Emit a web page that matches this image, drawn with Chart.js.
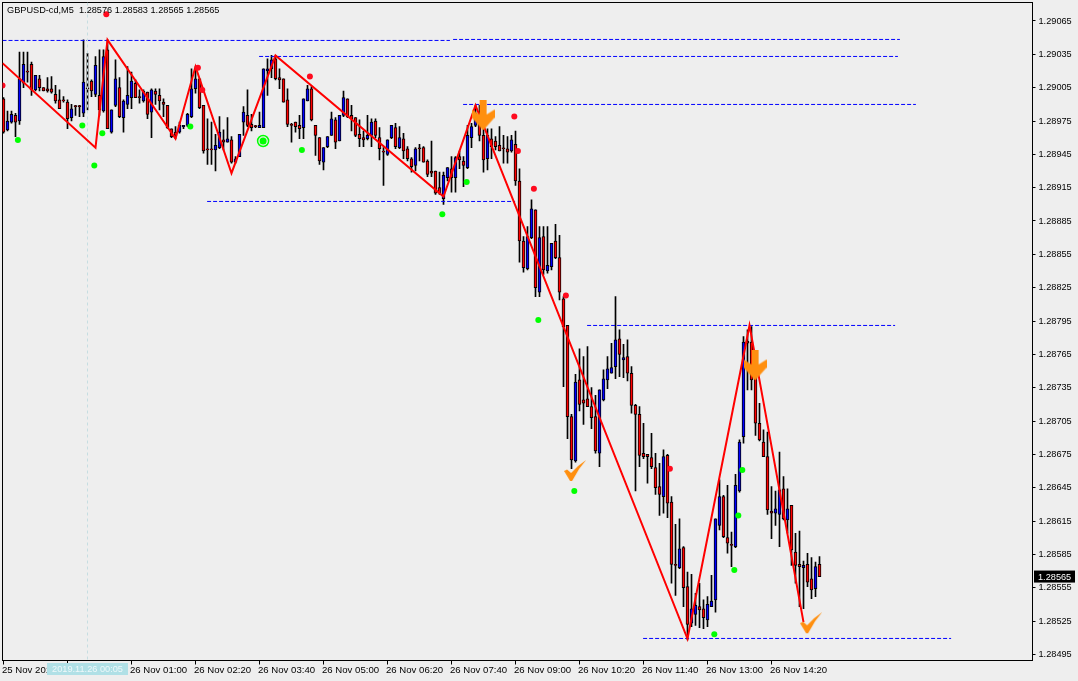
<!DOCTYPE html>
<html>
<head>
<meta charset="utf-8">
<title>GBPUSD-cd,M5</title>
<script src="https://cdn.jsdelivr.net/npm/chart.js@4/dist/chart.umd.min.js"></script>
<style>
  html, body { margin: 0; padding: 0; background: #eeeeee; overflow: hidden; }
  canvas { display: block; }
</style>
</head>
<body>
<canvas id="priceChart" width="1078" height="681"></canvas>
<script>
// Candles, one entry per M5 bar
const opens = [
  1.28995,1.28967,1.28974,1.28980,1.28975,1.29009,1.29020,1.29026,1.29003,1.29013,
  1.29005,1.29004,1.29004,1.28999,1.28994,1.28994,1.28992,1.28978,1.28988,1.28988,
  1.28982,1.29004,1.29011,1.28999,1.28998,1.28984,1.29039,1.28965,1.28989,1.29005,
  1.28978,1.28990,1.28996,1.29009,1.28997,1.28993,1.29001,1.28983,1.29002,1.28998,
  1.28992,1.28989,1.28968,1.28965,1.28965,1.28970,1.28971,1.28979,1.29004,1.29013,
  1.28989,1.28950,1.28950,1.28949,1.28951,1.28958,1.28956,1.28958,1.28938,1.28943,
  1.28974,1.28980,1.28972,1.28970,1.28969,1.28969,1.29020,1.29022,1.29031,1.29014,
  1.29013,1.28994,1.28972,1.28974,1.28971,1.28969,1.28993,1.29004,1.28971,1.28960,
  1.28938,1.28952,1.28962,1.28976,1.28957,1.28980,1.28995,1.28980,1.28978,1.28963,
  1.28960,1.28959,1.28962,1.28975,1.28960,1.28948,1.28945,1.28960,1.28969,1.28951,
  1.28959,1.28950,1.28941,1.28935,1.28950,1.28951,1.28939,1.28930,1.28930,1.28915,
  1.28905,1.28924,1.28932,1.28924,1.28943,1.28939,1.28933,1.28960,1.28971,1.28981,
  1.28962,1.28941,1.28959,1.28957,1.28953,1.28950,1.28950,1.28948,1.28954,1.28921,
  1.28867,1.28842,1.28870,1.28895,1.28821,1.28871,1.28840,1.28844,1.28867,1.28852,
  1.28815,1.28791,1.28709,1.28669,1.28742,1.28724,1.28725,1.28718,1.28709,1.28676,
  1.28724,1.28742,1.28748,1.28754,1.28779,1.28760,1.28763,1.28748,1.28719,1.28711,
  1.28676,1.28675,1.28672,1.28663,1.28646,1.28637,1.28674,1.28632,1.28575,1.28573,
  1.28591,1.28556,1.28523,1.28531,1.28538,1.28536,1.28526,1.28538,1.28544,1.28611,
  1.28637,1.28600,1.28594,1.28592,1.28642,1.28691,1.28777,1.28776,1.28746,1.28703,
  1.28686,1.28673,1.28624,1.28622,1.28621,1.28644,1.28616,1.28629,1.28587,1.28576,
  1.28573,1.28576,1.28563,1.28554,1.28576
];
const highs = [
  1.28996,1.28984,1.28984,1.28982,1.29037,1.29037,1.29037,1.29028,1.29016,1.29016,
  1.29005,1.29014,1.29015,1.29007,1.29003,1.28997,1.28994,1.28990,1.28989,1.28989,
  1.29048,1.29036,1.29012,1.29033,1.29039,1.29039,1.29048,1.28985,1.29030,1.29014,
  1.28994,1.29024,1.29019,1.29012,1.29003,1.29003,1.29001,1.29004,1.29004,1.29004,
  1.28995,1.28989,1.28968,1.28970,1.28974,1.28971,1.28982,1.29022,1.29024,1.29013,
  1.28989,1.28977,1.28974,1.28963,1.28979,1.28967,1.28978,1.28961,1.28943,1.28963,
  1.28988,1.29003,1.28981,1.28971,1.28983,1.29022,1.29031,1.29034,1.29034,1.29022,
  1.29013,1.29004,1.28973,1.28974,1.28980,1.28995,1.29007,1.29006,1.28971,1.28960,
  1.28951,1.28961,1.28983,1.28978,1.28980,1.29002,1.28995,1.28989,1.28978,1.28976,
  1.28966,1.28980,1.28977,1.28977,1.28969,1.28951,1.28958,1.28971,1.28973,1.28970,
  1.28964,1.28952,1.28942,1.28951,1.28954,1.28952,1.28940,1.28957,1.28930,1.28929,
  1.28929,1.28933,1.28943,1.28943,1.28948,1.28943,1.28971,1.28973,1.28989,1.28989,
  1.28968,1.28968,1.28968,1.28961,1.28970,1.28962,1.28961,1.28962,1.28966,1.28932,
  1.28871,1.28880,1.28904,1.28895,1.28880,1.28880,1.28880,1.28865,1.28882,1.28872,
  1.28817,1.28791,1.28711,1.28747,1.28770,1.28763,1.28772,1.28735,1.28728,1.28733,
  1.28751,1.28763,1.28775,1.28817,1.28787,1.28774,1.28778,1.28754,1.28720,1.28718,
  1.28703,1.28675,1.28694,1.28676,1.28667,1.28679,1.28675,1.28637,1.28612,1.28617,
  1.28592,1.28569,1.28567,1.28550,1.28559,1.28544,1.28547,1.28566,1.28617,1.28652,
  1.28638,1.28647,1.28605,1.28657,1.28688,1.28781,1.28787,1.28790,1.28751,1.28721,
  1.28697,1.28695,1.28646,1.28642,1.28677,1.28655,1.28644,1.28629,1.28604,1.28606,
  1.28579,1.28586,1.28582,1.28578,1.28583
];
const lows = [
  1.28964,1.28966,1.28973,1.28961,1.28972,1.29005,1.29010,1.28998,1.29002,1.29002,
  1.29002,1.29001,1.29000,1.28991,1.28986,1.28992,1.28968,1.28975,1.28980,1.28979,
  1.28979,1.28985,1.28997,1.28997,1.28980,1.28983,1.28968,1.28964,1.28988,1.28978,
  1.28965,1.28986,1.28986,1.28996,1.28991,1.28992,1.28977,1.28960,1.28990,1.28985,
  1.28979,1.28968,1.28960,1.28959,1.28964,1.28968,1.28970,1.28978,1.29000,1.28986,
  1.28946,1.28936,1.28936,1.28930,1.28950,1.28949,1.28956,1.28937,1.28937,1.28943,
  1.28962,1.28970,1.28966,1.28969,1.28969,1.28969,1.28998,1.29014,1.29012,1.29004,
  1.28992,1.28970,1.28956,1.28965,1.28959,1.28959,1.28993,1.28975,1.28944,1.28936,
  1.28931,1.28951,1.28962,1.28950,1.28957,1.28979,1.28978,1.28966,1.28961,1.28952,
  1.28952,1.28958,1.28952,1.28960,1.28940,1.28917,1.28944,1.28959,1.28950,1.28950,
  1.28941,1.28939,1.28929,1.28930,1.28939,1.28938,1.28925,1.28925,1.28909,1.28909,
  1.28900,1.28921,1.28911,1.28911,1.28932,1.28916,1.28932,1.28951,1.28970,1.28957,
  1.28929,1.28931,1.28941,1.28949,1.28948,1.28937,1.28937,1.28947,1.28917,1.28848,
  1.28839,1.28841,1.28869,1.28817,1.28817,1.28837,1.28838,1.28841,1.28851,1.28814,
  1.28736,1.28689,1.28662,1.28668,1.28714,1.28702,1.28718,1.28698,1.28676,1.28664,
  1.28723,1.28734,1.28748,1.28743,1.28745,1.28744,1.28741,1.28712,1.28642,1.28664,
  1.28671,1.28649,1.28662,1.28639,1.28620,1.28622,1.28618,1.28559,1.28548,1.28572,
  1.28538,1.28508,1.28520,1.28521,1.28519,1.28518,1.28520,1.28538,1.28533,1.28607,
  1.28600,1.28586,1.28574,1.28591,1.28641,1.28685,1.28733,1.28733,1.28692,1.28687,
  1.28673,1.28621,1.28599,1.28611,1.28592,1.28616,1.28604,1.28575,1.28559,1.28538,
  1.28536,1.28556,1.28545,1.28547,1.28565
];
const closes = [
  1.28965,1.28975,1.28981,1.28974,1.29013,1.29026,1.29019,1.29003,1.29016,1.29005,
  1.29002,1.29002,1.29001,1.28993,1.28986,1.28993,1.28977,1.28986,1.28988,1.28988,
  1.29010,1.29004,1.29002,1.29025,1.28985,1.29033,1.28968,1.28985,1.29013,1.28979,
  1.28993,1.28998,1.29011,1.28996,1.28996,1.29002,1.28981,1.29003,1.28999,1.28993,
  1.28990,1.28969,1.28961,1.28962,1.28971,1.28971,1.28981,1.29004,1.29013,1.28987,
  1.28948,1.28949,1.28949,1.28953,1.28965,1.28956,1.28959,1.28938,1.28941,1.28963,
  1.28983,1.28971,1.28969,1.28970,1.28971,1.29022,1.29022,1.29030,1.29013,1.29012,
  1.28992,1.28972,1.28971,1.28970,1.28968,1.28995,1.29004,1.28976,1.28962,1.28939,
  1.28951,1.28961,1.28977,1.28956,1.28980,1.28996,1.28979,1.28977,1.28962,1.28959,
  1.28958,1.28962,1.28974,1.28962,1.28950,1.28947,1.28958,1.28971,1.28952,1.28960,
  1.28948,1.28941,1.28934,1.28950,1.28950,1.28938,1.28927,1.28928,1.28910,1.28910,
  1.28926,1.28933,1.28924,1.28942,1.28940,1.28935,1.28962,1.28970,1.28982,1.28962,
  1.28940,1.28962,1.28952,1.28952,1.28948,1.28950,1.28947,1.28958,1.28921,1.28867,
  1.28843,1.28871,1.28896,1.28825,1.28870,1.28841,1.28845,1.28865,1.28852,1.28821,
  1.28790,1.28709,1.28670,1.28740,1.28720,1.28721,1.28718,1.28708,1.28678,1.28733,
  1.28743,1.28752,1.28753,1.28778,1.28765,1.28762,1.28748,1.28719,1.28711,1.28674,
  1.28673,1.28673,1.28664,1.28645,1.28639,1.28673,1.28631,1.28576,1.28575,1.28590,
  1.28555,1.28522,1.28536,1.28539,1.28535,1.28528,1.28540,1.28543,1.28617,1.28637,
  1.28601,1.28595,1.28593,1.28647,1.28686,1.28776,1.28775,1.28742,1.28703,1.28688,
  1.28673,1.28625,1.28622,1.28626,1.28643,1.28617,1.28626,1.28589,1.28575,1.28574,
  1.28575,1.28560,1.28553,1.28574,1.28565
];

// Axis ticks
const priceTicks = [
  1.29065,1.29035,1.29005,1.28975,1.28945,1.28915,1.28885,1.28855,1.28825,1.28795,
  1.28765,1.28735,1.28705,1.28675,1.28645,1.28615,1.28585,1.28555,1.28525,1.28495
];
const timeTickBars = [0,16,32,48,64,80,96,112,128,144,160,176,192];
const timeTickLabels = [
  '25 Nov 2019','25 Nov 23:40','26 Nov 01:00','26 Nov 02:20','26 Nov 03:40','26 Nov 05:00','26 Nov 06:20',
  '26 Nov 07:40','26 Nov 09:00','26 Nov 10:20','26 Nov 11:40','26 Nov 13:00','26 Nov 14:20'
];

// Zigzag indicator
const zigzagBars = [-0.25,23,26,43,48,57,68,110,118,171,186.5,200];
const zigzagPrices = [1.29027,1.28951,1.29048,1.28959,1.29024,1.28928,1.29034,1.28907,1.28989,1.28509,1.28791,1.28524];

// Horizontal levels
const levelFrom = [-0.25,112.4,63.9,114.9,50.9,145.9,159.9];
const levelTo = [111.6,224.1,223.6,228.1,127.9,222.9,236.9];
const levelPrices = [1.290475,1.290484,1.290331,1.289899,1.289026,1.287910,1.285093];

// Indicator dots
const redDotBars = [25.7,-0.25,48.6,49.7,76.6,127.7,128.6,132.6,140.6,166.6];
const redDotPrices = [1.29071,1.29007,1.29023,1.29003,1.29015,1.28979,1.28948,1.28914,1.28818,1.28662];
const greenDotBars = [3.6,19.7,24.7,22.7,46.7,74.6,109.7,115.8,133.7,142.7,177.7,182.7,183.7,184.7];
const greenDotPrices = [1.28958,1.28971,1.28964,1.28935,1.28970,1.28949,1.28891,1.28920,1.28796,1.28642,1.28513,1.28571,1.28620,1.28661];
const targetBars = [64.9];
const targetPrices = [1.28957];

// Orange signals
const arrowBars = [119.9,187.9];
const arrowPrices = [1.28980,1.28755];
const checkBars = [142.9,201.9];
const checkPrices = [1.28660,1.28523];

// Crosshair position and info boxes
const crosshairBar = 21;
const crosshairLabel = '2019.11.26 00:05';
const headerText = 'GBPUSD-cd,M5  1.28576 1.28583 1.28565 1.28565';
const lastPriceLabel = '1.28565';

const FONT_FAMILY = '"Liberation Sans", Arial, sans-serif';

function xy(xs, ys) {
  return xs.map((x, i) => ({ x: x, y: ys[i] }));
}

function makeMarker(w, h, pts) {
  const c = document.createElement('canvas');
  c.width = w;
  c.height = h;
  const ctx = c.getContext('2d');
  ctx.fillStyle = '#ff8f0f';
  ctx.beginPath();
  pts.forEach((p, i) => i ? ctx.lineTo(p[0], p[1]) : ctx.moveTo(p[0], p[1]));
  ctx.closePath();
  ctx.fill();
  return c;
}

const arrowMarker = makeMarker(23, 30, [[8,0],[15,0],[15,14],[23,9],[23,17],[11.5,30],[0,17],[0,9],[8,14]]);
const checkMarker = makeMarker(22, 22, [[0,11],[3,9.5],[7,13],[14,6],[22,0],[15,9],[8,21],[6,21]]);

// Frame, date box, last price box and header
const overlayPlugin = {
  id: 'overlay',
  beforeDatasetsDraw(chart) {
    const a = chart.chartArea;
    const ctx = chart.ctx;
    ctx.save();
    ctx.strokeStyle = '#000';
    ctx.lineWidth = 1;
    ctx.strokeRect(a.left, a.top, a.right - a.left, a.bottom - a.top);
    ctx.restore();
  },
  afterDraw(chart) {
    const ctx = chart.ctx;
    const xPix = chart.scales.x.getPixelForValue(crosshairBar);
    const yPix = chart.scales.y.getPixelForValue(closes[closes.length - 1]);
    ctx.save();
    ctx.font = '9.2px ' + FONT_FAMILY;
    ctx.textBaseline = 'middle';

    ctx.fillStyle = '#b0e0e6';
    ctx.fillRect(xPix - 40.5, 663, 81, 12);
    ctx.fillStyle = '#eef8fa';
    ctx.textAlign = 'center';
    ctx.fillText(crosshairLabel, xPix, 669.5);

    ctx.fillStyle = '#000';
    ctx.fillRect(1034, yPix - 6, 41, 12);
    ctx.fillStyle = '#fff';
    ctx.textAlign = 'left';
    ctx.fillText(lastPriceLabel, 1038, yPix + 0.5);

    ctx.fillStyle = '#000';
    ctx.fillText(headerText, 7, 10.5);
    ctx.restore();
  }
};

const levelDatasets = levelPrices.map((p, i) => ({
  type: 'line',
  data: [{ x: levelFrom[i], y: p }, { x: levelTo[i], y: p }],
  borderColor: '#0000ff',
  borderWidth: 1,
  borderDash: [4, 2],
  pointRadius: 0,
  order: 5
}));

new Chart(document.getElementById('priceChart'), {
  type: 'bar',
  plugins: [overlayPlugin],
  data: {
    datasets: [
      {
        // wicks
        data: xy(opens.map((_, i) => i), lows.map((l, i) => [l, highs[i]])),
        backgroundColor: '#000',
        borderWidth: 0,
        barThickness: 1,
        grouped: false,
        order: 11
      },
      {
        // bodies
        data: xy(opens.map((_, i) => i), opens.map((o, i) => [o, closes[i]])),
        backgroundColor: opens.map((o, i) => closes[i] > o ? '#0000ff' : '#ff0000'),
        borderColor: '#000',
        borderWidth: 1,
        borderSkipped: false,
        barThickness: 3,
        minBarLength: 1,
        grouped: false,
        order: 10
      },
      ...levelDatasets,
      {
        // crosshair
        type: 'line',
        data: [{ x: crosshairBar, y: 1.2908165 }, { x: crosshairBar, y: 1.2848945 }],
        borderColor: '#c6dde1',
        borderWidth: 1,
        borderDash: [3, 3],
        pointRadius: 0,
        order: 4
      },
      {
        type: 'line',
        data: xy(zigzagBars, zigzagPrices),
        borderColor: '#ff0000',
        borderWidth: 2,
        pointRadius: 0,
        tension: 0,
        order: 3
      },
      {
        type: 'scatter',
        data: xy(redDotBars, redDotPrices),
        backgroundColor: '#ff0a1e',
        borderWidth: 0,
        pointRadius: 3,
        order: 2
      },
      {
        type: 'scatter',
        data: xy(greenDotBars, greenDotPrices),
        backgroundColor: '#00ff00',
        borderWidth: 0,
        pointRadius: 3,
        order: 2
      },
      {
        type: 'scatter',
        data: xy(targetBars, targetPrices),
        backgroundColor: '#00ff00',
        borderWidth: 0,
        pointRadius: 3.5,
        order: 2
      },
      {
        type: 'scatter',
        data: xy(targetBars, targetPrices),
        backgroundColor: 'transparent',
        borderColor: '#00ff00',
        borderWidth: 1.5,
        pointRadius: 5.5,
        order: 2
      },
      {
        type: 'scatter',
        data: xy(arrowBars, arrowPrices),
        pointStyle: arrowMarker,
        pointRadius: 10,
        order: 1
      },
      {
        type: 'scatter',
        data: xy(checkBars, checkPrices),
        pointStyle: checkMarker,
        pointRadius: 10,
        order: 1
      }
    ]
  },
  options: {
    responsive: false,
    animation: false,
    events: [],
    layout: { autoPadding: false, padding: { left: 2.5, top: 2.5, right: 0, bottom: 0 } },
    plugins: { legend: { display: false }, tooltip: { enabled: false } },
    scales: {
      x: {
        type: 'linear',
        offset: false,
        min: -0.25,
        max: 257.25,
        afterBuildTicks(scale) {
          scale.ticks = timeTickBars.map(v => ({ value: v }));
        },
        afterFit(scale) {
          scale.height = 20.5;
          scale.paddingLeft = 0;
          scale.paddingRight = 0;
        },
        grid: { offset: false, drawOnChartArea: false, color: '#000', tickLength: 4 },
        border: { color: '#000' },
        ticks: {
          autoSkip: false,
          maxRotation: 0,
          align: 'start',
          labelOffset: -1.5,
          padding: 0,
          color: '#000',
          font: { family: FONT_FAMILY, size: 9.6 },
          callback(value) {
            return timeTickLabels[timeTickBars.indexOf(value)];
          }
        }
      },
      y: {
        type: 'linear',
        position: 'right',
        min: 1.2848945,
        max: 1.2908165,
        afterBuildTicks(scale) {
          scale.ticks = priceTicks.map(v => ({ value: v }));
        },
        afterFit(scale) {
          scale.width = 45.5;
          scale.paddingTop = 0;
          scale.paddingBottom = 0;
        },
        grid: { drawOnChartArea: false, color: '#000', tickLength: 3 },
        border: { color: '#000' },
        ticks: {
          autoSkip: false,
          padding: 3,
          color: '#000',
          font: { family: FONT_FAMILY, size: 9.2 },
          callback(value) {
            return value.toFixed(5);
          }
        }
      }
    }
  }
});
</script>
</body>
</html>
